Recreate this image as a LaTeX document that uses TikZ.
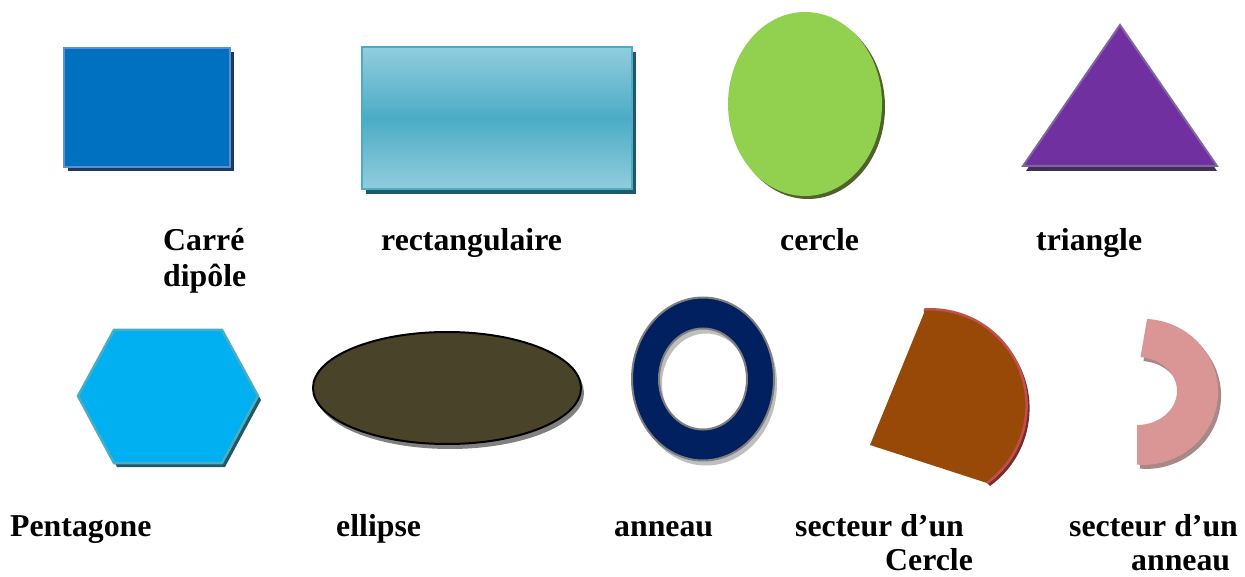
\documentclass[tikz,border=0pt]{standalone}
\usepackage{fontspec}
\setmainfont{Liberation Serif}
\definecolor{sqfill}{HTML}{0070C0}
\definecolor{sqborder}{HTML}{5B8FD1}
\definecolor{sqshadow}{HTML}{1F3A60}
\definecolor{rlight}{HTML}{92CDDC}
\definecolor{rmid}{HTML}{4BACC6}
\definecolor{rborder}{HTML}{4BACC6}
\definecolor{rshadow}{HTML}{215968}
\definecolor{cfill}{HTML}{92D050}
\definecolor{cshadow}{HTML}{4F6228}
\definecolor{tfill}{HTML}{7030A0}
\definecolor{tborder}{HTML}{8064A2}
\definecolor{tshadow}{HTML}{3F3151}
\definecolor{hfill}{HTML}{00B0F0}
\definecolor{hborder}{HTML}{4BACC6}
\definecolor{hshadow}{HTML}{215968}
\definecolor{efill}{HTML}{494429}
\definecolor{eshadow}{HTML}{808080}
\definecolor{afill}{HTML}{002060}
\definecolor{aborder}{HTML}{7F7F7F}
\definecolor{ashadow}{HTML}{BFBFBF}
\definecolor{scfill}{HTML}{984807}
\definecolor{scborder}{HTML}{C0504D}
\definecolor{scshadow}{HTML}{7B2C2A}
\definecolor{safill}{HTML}{D99694}
\definecolor{sashadow}{HTML}{A98787}
\begin{document}
\begin{tikzpicture}[x=1pt,y=-1pt,
  lbl/.style={font=\fontsize{31.8}{36}\selectfont\bfseries, anchor=base west, inner sep=0pt, text=black},
  edge/.style={line width=2.5pt, line join=miter}]
\useasboundingbox (0,0) rectangle (1245,577);
% Carre
\fill[sqshadow] (68,52) rectangle (234,171);
\draw[edge, fill=sqfill, draw=sqborder] (64,48) rectangle (230,167);
% rectangle
\fill[rshadow] (366,52) rectangle (636,194);
\shade[top color=rlight, bottom color=rlight, middle color=rmid] (362,47) rectangle (632,189);
\draw[edge, draw=rborder] (362,47) rectangle (632,189);
% cercle
\fill[cshadow] (808,107) ellipse [x radius=77, y radius=92];
\fill[cfill] (805,104) ellipse [x radius=77, y radius=92];
% triangle
\fill[tshadow] (1026,171) -- (1120,31) -- (1217,171) -- cycle;
\draw[line width=2pt, fill=tfill, draw=tborder] (1023,166) -- (1120,25) -- (1217,166) -- cycle;
% hexagone
\fill[hshadow] (117,334) -- (225,334) -- (261,400) -- (225,467) -- (117,467) -- (81,400) -- cycle;
\draw[edge, fill=hfill, draw=hborder] (114,330) -- (222,330) -- (258,396) -- (222,463) -- (114,463) -- (78,396) -- cycle;
% ellipse
\fill[eshadow] (450,393) ellipse [x radius=134, y radius=56];
\draw[line width=2pt, fill=efill, draw=black] (447,388) ellipse [x radius=134, y radius=56];
% anneau
\fill[ashadow, even odd rule] (706,384) ellipse [x radius=71, y radius=81.5] (706,384) ellipse [x radius=44, y radius=50.5];
\draw[line width=2pt, fill=afill, draw=aborder, even odd rule] (703,379) ellipse [x radius=71, y radius=81.5] (703,379) ellipse [x radius=44, y radius=50.5];
% secteur d'un cercle
\fill[scshadow] (926,313) -- (975,470) -- (990,486) arc[start angle=54, end angle=-94, radius=96] -- cycle;
\fill[scfill] (924,313) -- (870,445) -- (987,483) arc[start angle=54, end angle=-94, radius=96] -- cycle;
\draw[edge, draw=scborder] (987,483) arc[start angle=54, end angle=-94, radius=96];
% secteur d'un anneau
\fill[sashadow] (1140,469) -- (1140,429) arc[start angle=90, end angle=-85, x radius=40, y radius=34] -- (1150,323) arc[start angle=-87, end angle=95, x radius=75, y radius=73] -- cycle;
\fill[safill] (1137,465) -- (1137,425) arc[start angle=90, end angle=-85, x radius=40, y radius=34] -- (1147,319) arc[start angle=-87, end angle=95, x radius=75, y radius=73] -- cycle;
% labels
\node[lbl] (l1) at (163,251) {Carré};
\node[lbl] (l1b) at (163,287) {dipôle};
\node[lbl] (l2) at (381,251) {rectangulaire};
\node[lbl] (l3) at (780,251) {cercle};
\node[lbl] (l4) at (1036,251) {triangle};
\node[lbl] (l5) at (10,536) {Pentagone};
\node[lbl] (l6) at (336,536) {ellipse};
\node[lbl] (l7) at (614,536) {anneau};
\node[lbl] (l8) at (795,536) {secteur d’un};
\node[lbl] (l8b) at (885,570) {Cercle};
\node[lbl] (l9) at (1069,536) {secteur d’un};
\node[lbl] (l9b) at (1131,570) {anneau};
\end{tikzpicture}
\end{document}
